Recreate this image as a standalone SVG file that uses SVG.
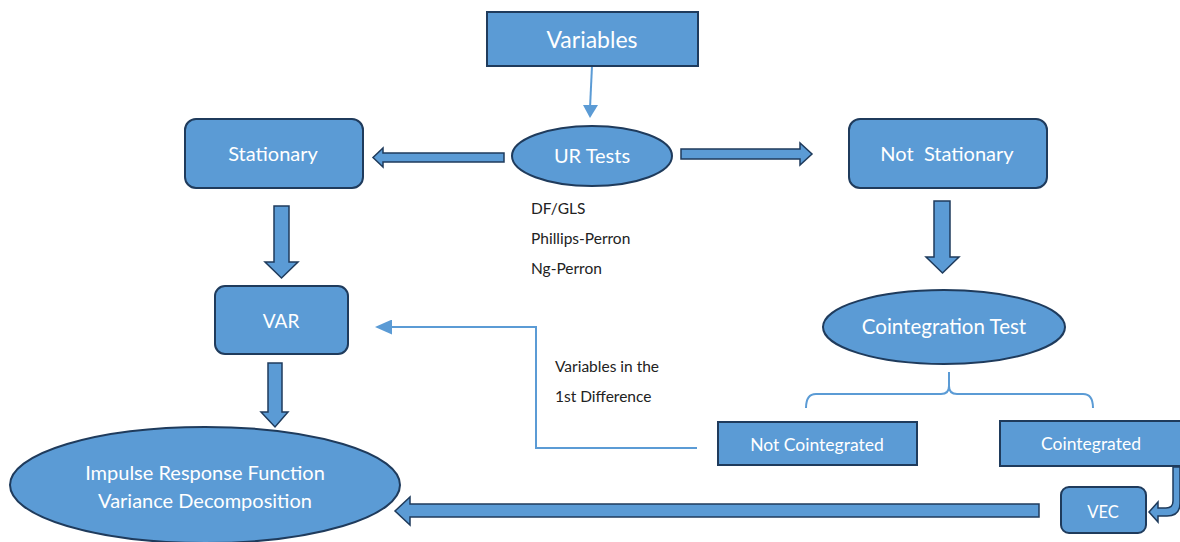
<svg xmlns="http://www.w3.org/2000/svg" width="1180" height="542" viewBox="0 0 1180 542">
<style>
.box{fill:#5b9bd5;stroke:#1f3b5c;stroke-width:2}
.blk{fill:#5b9bd5;stroke:#1f3b5c;stroke-width:1.5;stroke-linejoin:miter}
.lbl{fill:#ffffff;font-family:Lato,"Liberation Sans",sans-serif;text-anchor:middle;dominant-baseline:central}
.note{fill:#222222;font-family:Lato,"Liberation Sans",sans-serif;font-size:15.5px;dominant-baseline:central}
.thin{fill:none;stroke:#5b9bd5;stroke-width:2}
</style>
<defs>
<marker id="ah" markerUnits="userSpaceOnUse" markerWidth="17" markerHeight="15" refX="12" refY="7.5" orient="auto">
<path d="M0,0 L17,7.5 L0,15 Z" fill="#5b9bd5"/>
</marker>
</defs>
<rect width="1180" height="542" fill="#ffffff"/>
<g id="connectors">
<path class="thin" d="M592,66 L590,108"/>
<path d="M583,105 L598,105 L590,118 Z" fill="#5b9bd5"/>
<path class="blk" d="M504,153 L383,153 L383,148 L373,157.5 L383,167 L383,162 L504,162 Z"/>
<path class="blk" d="M681,149 L800,149 L800,143 L812,154 L800,165 L800,159 L681,159 Z"/>
<path class="blk" d="M934,201 L950,201 L950,257 L959,257 L942.5,273 L926,257 L934,257 Z"/>
<path class="blk" d="M274,206 L289,206 L289,262 L298,262 L281.5,278 L265,262 L274,262 Z"/>
<path class="blk" d="M268,363 L282,363 L282,412 L288,412 L275,427 L261,412 L268,412 Z"/>
<path class="blk" d="M1039,504 L410,504 L410,497 L395,511 L410,525 L410,517 L1039,517 Z"/>
<path class="blk" d="M1173,467 L1180,467 L1180,503 Q1180,516 1167,516 L1158,516 L1158,522 L1149,512 L1158,502 L1158,508 L1166,508 Q1173,508 1173,501 Z"/>
<path class="thin" d="M697,448 L536,448 L536,327 L380,327" marker-end="url(#ah)"/>
<path class="thin" d="M806,408 Q806,394 816,394 L941,394 Q949,394 949,386 L949,372 M949,386 Q949,394 957,394 L1083,394 Q1093,394 1093,408"/>
</g>
<g id="variables">
<rect class="box" x="487" y="12" width="211" height="54"/>
<text class="lbl" x="592" y="39" font-size="23">Variables</text>
</g>
<g id="ur-tests">
<ellipse class="box" cx="592" cy="156" rx="80" ry="30"/>
<text class="lbl" x="592" y="155" font-size="20">UR Tests</text>
</g>
<g id="ur-list">
<text class="note" x="531" y="208">DF/GLS</text>
<text class="note" x="531" y="238">Phillips-Perron</text>
<text class="note" x="531" y="268">Ng-Perron</text>
</g>
<g id="stationary">
<rect class="box" x="185" y="119" width="178" height="69" rx="11"/>
<text class="lbl" x="273" y="153" font-size="20">Stationary</text>
</g>
<g id="not-stationary">
<rect class="box" x="849" y="119" width="198" height="69" rx="11"/>
<text class="lbl" x="947" y="153" font-size="20" xml:space="preserve">Not  Stationary</text>
</g>
<g id="var">
<rect class="box" x="215" y="286" width="133" height="68" rx="10"/>
<text class="lbl" x="281" y="320" font-size="19">VAR</text>
</g>
<g id="cointegration-test">
<ellipse class="box" cx="944" cy="327" rx="121" ry="37"/>
<text class="lbl" x="944" y="326" font-size="20.5">Cointegration Test</text>
</g>
<g id="diff-label">
<text class="note" x="555" y="366">Variables in the</text>
<text class="note" x="555" y="396">1st Difference</text>
</g>
<g id="not-cointegrated">
<rect class="box" x="718" y="422" width="199" height="43"/>
<text class="lbl" x="817" y="444" font-size="17.5">Not Cointegrated</text>
</g>
<g id="cointegrated">
<rect class="box" x="1000" y="421" width="182" height="45"/>
<text class="lbl" x="1091" y="443" font-size="17.5">Cointegrated</text>
</g>
<g id="vec">
<rect class="box" x="1061" y="487" width="85" height="46" rx="8"/>
<text class="lbl" x="1103" y="512" font-size="16.5">VEC</text>
</g>
<g id="irf-vd">
<ellipse class="box" cx="205" cy="485" rx="195" ry="58"/>
<text class="lbl" x="205" y="472" font-size="20">Impulse Response Function</text>
<text class="lbl" x="205" y="500" font-size="20">Variance Decomposition</text>
</g>
</svg>
